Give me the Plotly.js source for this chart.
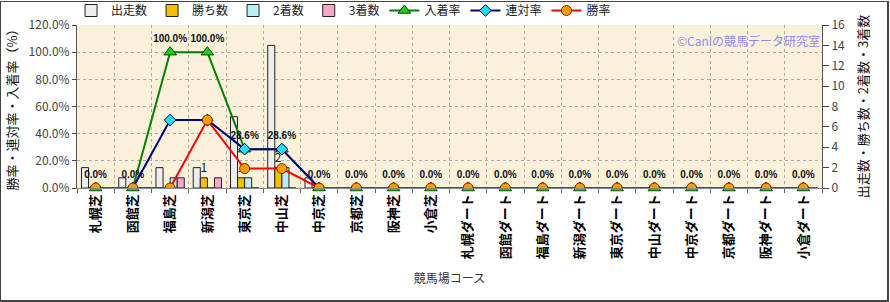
<!DOCTYPE html>
<html><head><meta charset="utf-8">
<script src="https://cdn.plot.ly/plotly-3.0.1.min.js"></script>
<style>
html,body{margin:0;padding:0;background:#fff;}
#wrap{position:absolute;left:0;top:0;width:890px;height:302px;}
#frame{position:absolute;left:0;top:1px;width:886px;height:298px;border:1px solid #444;border-right:2px solid #444;border-bottom:2px solid #444;pointer-events:none;}
</style></head>
<body>
<div id="wrap"><div id="chart"></div><div id="frame"></div></div>
<script>
const courses = ["札幌芝","函館芝","福島芝","新潟芝","東京芝","中山芝","中京芝","京都芝","阪神芝","小倉芝",
  "札幌ダート","函館ダート","福島ダート","新潟ダート","東京ダート","中山ダート","中京ダート","京都ダート","阪神ダート","小倉ダート"];
const runs   = [2,1,2,2,7,14,1,0,0,0,0,0,0,0,0,0,0,0,0,0];
const wins   = [0,0,0,1,1,2,0,0,0,0,0,0,0,0,0,0,0,0,0,0];
const second = [0,0,1,0,1,2,0,0,0,0,0,0,0,0,0,0,0,0,0,0];
const third  = [0,0,1,1,0,0,0,0,0,0,0,0,0,0,0,0,0,0,0,0];
const placeRate = [0,0,100,100,28.6,28.6,0,0,0,0,0,0,0,0,0,0,0,0,0,0];
const quinRate  = [0,0,50,50,28.6,28.6,0,0,0,0,0,0,0,0,0,0,0,0,0,0];
const winRate   = [0,0,0,50,14.3,14.3,0,0,0,0,0,0,0,0,0,0,0,0,0,0];
const leftTicks = [0,20,40,60,80,100,120];
const rightTicks = [0,2,4,6,8,10,12,14,16];

const F = '"Noto Sans CJK JP", "DejaVu Sans", sans-serif';
const barLine = {color:'#222', width:1};
const traces = [
  {type:'bar', name:'出走数', x:courses, y:runs, marker:{color:'#EEEEEE', line:barLine}, yaxis:'y'},
  {type:'bar', name:'勝ち数', x:courses, y:wins, marker:{color:'#F2C200', line:barLine}, yaxis:'y',
    text: wins.map(v=>v>0?String(v):''), textposition:'outside', cliponaxis:false,
    textfont:{family:F,size:12,color:'#222'}},
  {type:'bar', name:'2着数', x:courses, y:second, marker:{color:'#BDEFF2', line:barLine}, yaxis:'y'},
  {type:'bar', name:'3着数', x:courses, y:third, marker:{color:'#F4A6CC', line:barLine}, yaxis:'y'},
  {type:'scatter', mode:'lines+markers+text', name:'入着率', x:courses, y:placeRate, yaxis:'y2',
    line:{color:'#008000', width:2}, marker:{symbol:'triangle-up', size:11, color:'#22CC22', line:{color:'#005000', width:1}},
    text: placeRate.map(v=>v.toFixed(1)+'%'), textposition:'top center', cliponaxis:false,
    textfont:{family:'"Liberation Sans", sans-serif', size:10, color:'#111', weight:'bold'}},
  {type:'scatter', mode:'lines+markers', name:'連対率', x:courses, y:quinRate, yaxis:'y2',
    line:{color:'#000080', width:2}, marker:{symbol:'diamond', size:9, color:'#22E0F0', line:{color:'#000060', width:1}}},
  {type:'scatter', mode:'lines+markers', name:'勝率', x:courses, y:winRate, yaxis:'y2',
    line:{color:'#FF0000', width:2}, marker:{symbol:'circle', size:10, color:'#FF9A00', line:{color:'#663300', width:1}}}
];

const layout = {
  width:890, height:302,
  margin:{l:77, r:68, t:25, b:114, autoexpand:false},
  paper_bgcolor:'#FFFFFF', plot_bgcolor:'#FBF1DB',
  font:{family:F, size:12, color:'#333'},
  barmode:'group', bargap:0.24, bargroupgap:0,
  showlegend:true,
  legend:{orientation:'h', x:-0.008, xanchor:'left', y:1.0, yanchor:'bottom', font:{family:F,size:12,color:'#222'},
    bgcolor:'rgba(0,0,0,0)', itemwidth:30, tracegroupgap:0},
  xaxis:{type:'category', range:[-0.5,19.5], autorange:false, automargin:false, tickson:'boundaries', tickangle:-90, showgrid:true, gridcolor:'#AAAAAA', griddash:'dot',
    ticks:'outside', ticklen:4, tickcolor:'#666', showline:true, linecolor:'#888', linewidth:1, mirror:false,
    tickfont:{family:F, size:13, color:'#000', weight:'bold'},
    title:{text:'競馬場コース', font:{family:F,size:12,color:'#333'}, standoff:16}},
  yaxis:{side:'right', automargin:false, range:[0,16], tickvals:rightTicks, ticktext:rightTicks.map(String), showgrid:false, zeroline:false,
    ticks:'outside', ticklen:6, tickcolor:'#444', showline:true, linecolor:'#555', linewidth:1,
    tickfont:{family:F,size:12,color:'#444'},
    title:{text:'出走数・勝ち数・2着数・3着数', font:{family:F,size:13,color:'#111'}, standoff:14}},
  yaxis2:{side:'left', automargin:false, overlaying:'y', range:[0,120], tickvals:leftTicks, ticktext:leftTicks.map(v=>v.toFixed(1)+'%'),
    showgrid:true, gridcolor:'#AAAAAA', griddash:'dot', zeroline:false,
    ticks:'outside', ticklen:4, tickcolor:'#444', showline:true, linecolor:'#555', linewidth:1,
    tickfont:{family:F,size:12,color:'#444'},
    title:{text:'勝率・連対率・入着率（%）', font:{family:F,size:13,color:'#111'}, standoff:8}},
  annotations:[
    {xref:'paper', yref:'paper', x:1, y:0.905, xanchor:'right', yanchor:'middle', showarrow:false,
     text:'©Caniの競馬データ研究室', font:{family:F, size:12, color:'#8C8CF0'}}
  ]
};
Plotly.newPlot('chart', traces, layout, {displayModeBar:false, staticPlot:true});
</script>
</body></html>
